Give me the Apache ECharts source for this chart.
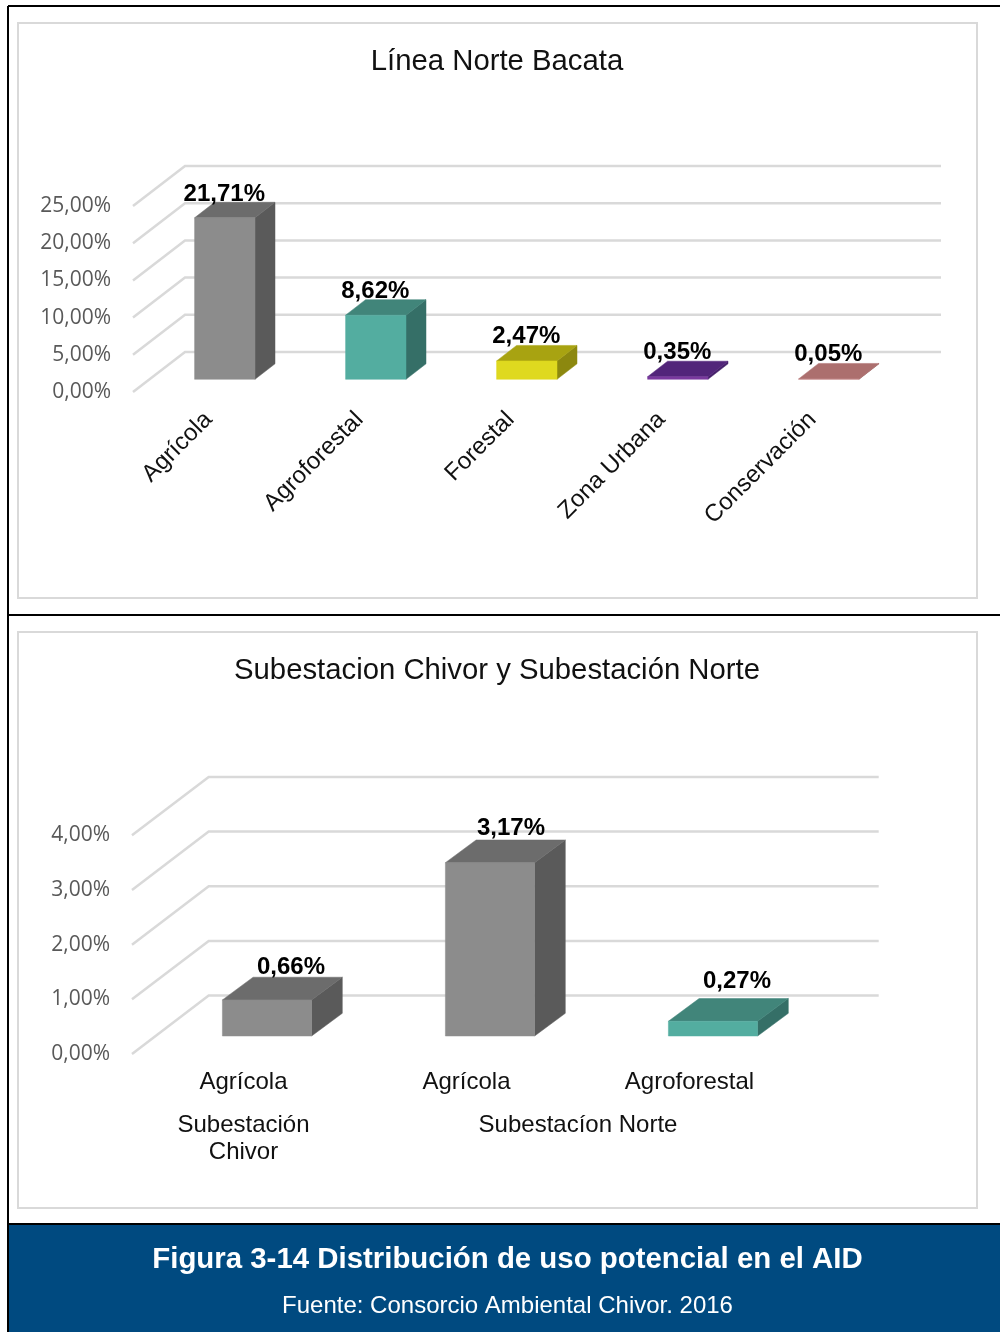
<!DOCTYPE html>
<html>
<head>
<meta charset="utf-8">
<title>Figura 3-14</title>
<script src="https://cdn.jsdelivr.net/npm/echarts@6/dist/echarts.min.js"></script>
<style>
  html, body { margin: 0; padding: 0; background: #fff; }
  #chart { width: 1000px; height: 1332px; }
</style>
</head>
<body>
<div id="chart"></div>
<script>
// datos
const categoriesNorte = ['Agrícola', 'Agroforestal', 'Forestal', 'Zona Urbana', 'Conservación'];
const valuesNorte = [21.71, 8.62, 2.47, 0.35, 0.05];
const ticksNorte = [0, 5, 10, 15, 20, 25];

const categoriesChivor = ['Agrícola', 'Agrícola', 'Agroforestal'];
const valuesChivor = [0.66, 3.17, 0.27];
const ticksChivor = [0, 1, 2, 3, 4];
const groupNames = ['Subestación\nChivor', 'Subestacíon Norte'];
const groupStarts = [0, 1];
const groupEnds = [0, 2];

const titleNorte = 'Línea Norte Bacata';
const titleChivor = 'Subestacion Chivor y Subestación Norte';
const caption = 'Figura 3-14 Distribución de uso potencial en el AID';
const source = 'Fuente: Consorcio Ambiental Chivor. 2016';

// colores de las caras: frente, tapa, lado
const GREY = ['#8c8c8c', '#6c6c6c', '#5a5a5a'];
const TEAL = ['#53ada0', '#41857a', '#356f67'];
const YELLOW = ['#dfd91f', '#a8a311', '#8c880f'];
const PURPLE = ['#7a3a9e', '#52257a', '#45206a'];
const PINK = ['#c99090', '#ac6f6e', '#965e5d'];
const facesNorte = [GREY, TEAL, YELLOW, PURPLE, PINK];
const facesChivor = [GREY, GREY, TEAL];

const fmt = v => v.toFixed(2).replace('.', ',') + '%';

// lineas del piso + pared, en falsa perspectiva
function wallSeries(index, ticks, wall) {
  return {
    type: 'custom',
    xAxisIndex: index,
    yAxisIndex: index,
    z: 1,
    silent: true,
    data: ticks.map(v => [0, v]),
    renderItem(params, api) {
      const box = params.coordSys;
      const y = api.coord([0, api.value(1)])[1];
      return {
        type: 'polyline',
        shape: { points: [
          [box.x, y],
          [box.x + wall.dx, y - wall.dy],
          [box.x + box.width + wall.dx + wall.extra, y - wall.dy]
        ] },
        style: { stroke: '#d9d9d9', lineWidth: 2.5, fill: null }
      };
    }
  };
}

function barSeries(index, values, faces, bar) {
  return {
    type: 'custom',
    xAxisIndex: index,
    yAxisIndex: index,
    z: 3,
    silent: true,
    data: values.map((v, i) => [i, v]),
    renderItem(params, api) {
      const i = api.value(0);
      const v = api.value(1);
      const c = faces[params.dataIndex];
      const nudge = bar.labelNudge[params.dataIndex];
      const base = api.coord([i, 0]);
      const tip = api.coord([i, v]);
      const w = api.size([1, 0])[0] * 0.4;
      const x0 = base[0] + bar.ox - w / 2;
      const x1 = x0 + w;
      const y0 = base[1] - bar.oy;
      const y1 = tip[1] - bar.oy;
      const poly = (points, fill) => ({
        type: 'polygon',
        shape: { points },
        style: { fill, stroke: fill, lineWidth: 0.5 }
      });
      return {
        type: 'group',
        children: [
          poly([[x1, y0], [x1 + bar.dx, y0 - bar.dy], [x1 + bar.dx, y1 - bar.dy], [x1, y1]], c[2]),
          poly([[x0, y1], [x1, y1], [x1 + bar.dx, y1 - bar.dy], [x0 + bar.dx, y1 - bar.dy]], c[1]),
          poly([[x0, y0], [x1, y0], [x1, y1], [x0, y1]], c[0]),
          {
            type: 'text',
            z2: 10,
            style: {
              text: fmt(v),
              x: (x0 + x1) / 2 + nudge[0],
              y: y1 - bar.dy - nudge[1],
              align: 'center',
              verticalAlign: 'middle',
              fill: '#000',
              font: 'bold 24px "Liberation Sans", Arial, sans-serif'
            }
          }
        ]
      };
    }
  };
}

const chart = echarts.init(document.getElementById('chart'), null, { renderer: 'canvas' });

const panel = (y, h) => ({
  type: 'rect', z: -10,
  shape: { x: 18, y, width: 959, height: h },
  style: { fill: '#fff', stroke: '#d9d9d9', lineWidth: 2 }
});
const blackLine = (x1, y1, x2, y2) => ({
  type: 'line', z: -5,
  shape: { x1, y1, x2, y2 },
  style: { stroke: '#000', lineWidth: 2 }
});

chart.setOption({
  animation: false,
  backgroundColor: '#fff',
  textStyle: { fontFamily: '"Liberation Sans", Arial, sans-serif' },
  graphic: [
    { type: 'rect', z: -6, shape: { x: 9, y: 1225, width: 991, height: 107 }, style: { fill: '#004a80' } },
    blackLine(8, 6, 1000, 6),
    blackLine(8, 6, 8, 1332),
    blackLine(8, 615, 1000, 615),
    blackLine(8, 1224, 1000, 1224),
    panel(23, 575),
    panel(632, 576)
  ],
  title: [
    { text: titleNorte, left: 492, top: 42, textAlign: 'center',
      textStyle: { fontSize: 29.3, fontWeight: 'normal', color: '#111' } },
    { text: titleChivor, left: 492, top: 651, textAlign: 'center',
      textStyle: { fontSize: 29.3, fontWeight: 'normal', color: '#111' } },
    { text: caption, left: 502.5, top: 1240, textAlign: 'center',
      textStyle: { fontSize: 29.4, fontWeight: 'bold', color: '#fff' } },
    { text: source, left: 502.5, top: 1289, textAlign: 'center',
      textStyle: { fontSize: 24, fontWeight: 'normal', color: '#fff' } }
  ],
  grid: [
    { left: 133, top: 206, width: 755, height: 186 },
    { left: 132, top: 835.3, width: 669, height: 218.7 }
  ],
  xAxis: [
    {
      gridIndex: 0, type: 'category', data: categoriesNorte,
      axisLine: { show: false }, axisTick: { show: false },
      axisLabel: { rotate: 45, margin: 24, interval: 0, fontSize: 24, color: '#111' }
    },
    {
      gridIndex: 1, type: 'category', data: categoriesChivor,
      axisLine: { show: false }, axisTick: { show: false },
      axisLabel: { margin: 16, interval: 0, fontSize: 24, color: '#111' }
    }
  ],
  yAxis: [
    {
      gridIndex: 0, type: 'value', min: 0, max: 25, interval: 5,
      axisLine: { show: false }, axisTick: { show: false }, splitLine: { show: false },
      axisLabel: { margin: 22, fontSize: 21, color: '#595959', fontFamily: '"Open Sans", sans-serif', padding: [3, 0, 0, 0], formatter: fmt }
    },
    {
      gridIndex: 1, type: 'value', min: 0, max: 4, interval: 1,
      axisLine: { show: false }, axisTick: { show: false }, splitLine: { show: false },
      axisLabel: { margin: 22, fontSize: 21, color: '#595959', fontFamily: '"Open Sans", sans-serif', padding: [3, 0, 0, 0], formatter: fmt }
    }
  ],
  series: [
    wallSeries(0, ticksNorte, { dx: 52, dy: 40, extra: 1 }),
    barSeries(0, valuesNorte, facesNorte, { ox: 16.3, oy: 12.7, dx: 20, dy: 15.5,
      labelNudge: [[-0.5, 8], [-0.5, 8], [-0.5, 9], [-0.5, 9], [-0.5, 9]] }),
    wallSeries(1, ticksChivor, { dx: 76.7, dy: 58.4, extra: 1 }),
    barSeries(1, valuesChivor, facesChivor, { ox: 23.5, oy: 18, dx: 30.7, dy: 22.7,
      labelNudge: [[24, 10], [21, 12], [24, 17]] }),
    {
      // segundo nivel de categorias del eje
      type: 'custom',
      xAxisIndex: 1,
      yAxisIndex: 1,
      z: 3,
      silent: true,
      data: groupNames.map((n, i) => [groupStarts[i], 0]),
      renderItem(params, api) {
        const i = params.dataIndex;
        const a = api.coord([groupStarts[i], 0]);
        const b = api.coord([groupEnds[i], 0]);
        return {
          type: 'text',
          style: {
            text: groupNames[i],
            x: (a[0] + b[0]) / 2,
            y: a[1] + 58,
            align: 'center',
            verticalAlign: 'top',
            lineHeight: 27,
            fill: '#111',
            font: '24px "Liberation Sans", Arial, sans-serif'
          }
        };
      }
    }
  ]
});
</script>
</body>
</html>
